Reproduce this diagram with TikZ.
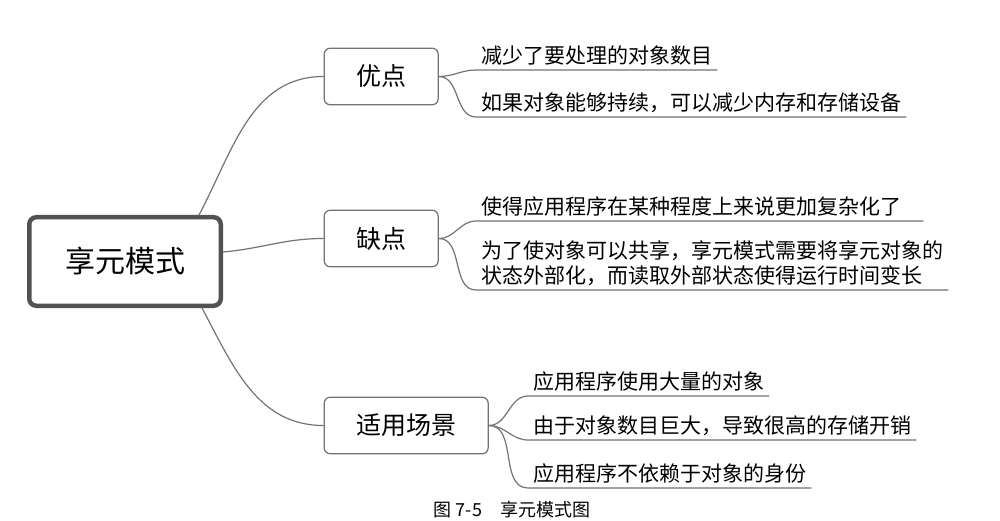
\documentclass[tikz,border=0pt]{standalone}
\usepackage{fontspec}
\setmainfont{Noto Sans CJK SC}
\usetikzlibrary{positioning}

\tikzset{
  root/.style={draw=black!68, line width=4.5pt, rounded corners=7pt,
    minimum width=191.5pt, minimum height=88.5pt, fill=white,
    font=\fontsize{30}{36}\selectfont},
  branch/.style={draw=black!55, line width=1.2pt, rounded corners=6pt,
    anchor=west, minimum height=56.5pt, inner xsep=32pt, fill=white,
    font=\fontsize{25}{30}\selectfont},
  leaf/.style={anchor=south west, inner xsep=5pt, inner ysep=3pt,
    text depth=3pt, font=\fontsize{21}{25}\selectfont},
  link/.style={draw=black!55, line width=1.2pt},
}

\begin{document}
\begin{tikzpicture}[x=1pt,y=-1pt]

\useasboundingbox[fill=white] (0,0) rectangle (1000,521);

\node[root] (root) at (125,261.5) {享元模式};

\node[branch] (yd) at (323.6,76.5) {优点};
\node[branch] (qd) at (323.6,238.5) {缺点};
\node[branch] (cj) at (323.6,425.5) {适用场景};

\node[leaf] (y1) at (476,70) {减少了要处理的对象数目};
\node[leaf] (y2) at (476,117) {如果对象能够持续，可以减少内存和存储设备};
\node[leaf] (q1) at (476,221) {使得应用程序在某种程度上来说更加复杂化了};
\node[leaf, align=left] (q2) at (476,290) {为了使对象可以共享，享元模式需要将享元对象的\\状态外部化，而读取外部状态使得运行时间变长};
\node[leaf] (c1) at (528,396) {应用程序使用大量的对象};
\node[leaf] (c2) at (528,440) {由于对象数目巨大，导致很高的存储开销};
\node[leaf] (c3) at (528,488) {应用程序不依赖于对象的身份};

\draw[link] ([xshift=-24pt]root.north east) to[out=62,in=180] (yd.west);
\draw[link] ([yshift=9.5pt]root.east) to[out=5,in=180] (qd.west);
\draw[link] ([xshift=-21pt]root.south east) to[out=-62,in=180] (cj.west);

\draw[link] (yd.east) to[out=0,in=180] (y1.south west) -- (y1.south east);
\draw[link] (yd.east) to[out=0,in=180] (y2.south west) -- (y2.south east);
\draw[link] (qd.east) to[out=0,in=180] (q1.south west) -- ([xshift=17pt]q1.south east);
\draw[link] (qd.east) to[out=0,in=180] (q2.south west) -- (q2.south east);
\draw[link] (cj.east) to[out=0,in=180] (c1.south west) -- (c1.south east);
\draw[link] (cj.east) to[out=0,in=180] (c2.south west) -- (c2.south east);
\draw[link] (cj.east) to[out=0,in=180] (c3.south west) -- (c3.south east);

\node[anchor=base, font=\fontsize{18}{22}\selectfont] (cap) at (512,516) {图 7-5\hspace{1em}享元模式图};

\end{tikzpicture}
\end{document}
